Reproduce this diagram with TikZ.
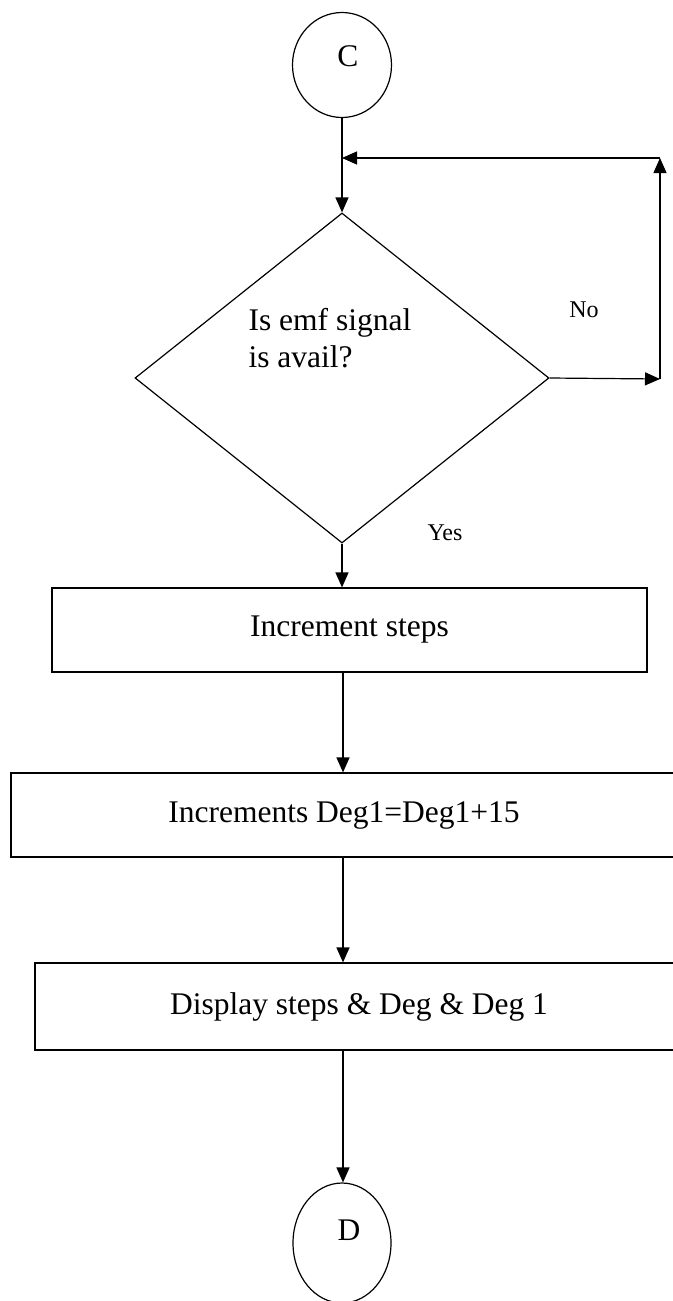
\documentclass[tikz,border=0pt]{standalone}
\usepackage{fontspec}
\setmainfont{Liberation Serif}
\usetikzlibrary{shapes.geometric,arrows.meta}
\tikzset{
	arr/.style={line width=1.2pt, -{Triangle[length=15pt,width=13pt]}},
	term/.style={draw, line width=1.2pt, ellipse, inner sep=0pt},
	decision/.style={draw, line width=1.2pt, diamond, inner sep=0pt, minimum width=414pt, minimum height=330pt},
	procbox/.style={draw, line width=1.2pt, rectangle, inner sep=0pt, font=\fontsize{31.5}{37}\selectfont},
	lbl/.style={inner sep=0pt, font=\fontsize{24}{28}\selectfont}
}
\begin{document}
\begin{tikzpicture}[x=1pt, y=-1pt]
	\useasboundingbox (0,0) rectangle (672,1301);
	% connector C
	\node[term, minimum width=99pt, minimum height=105pt] (C) at (342,65) {};
	\node[procbox, draw=none] (Ctext) at (348,56) {C};
	% decision
	\node[decision] (Q) at (342,378) {};
	\node[procbox, draw=none, align=left, anchor=north west] (Qtext) at (248,308) {Is emf signal\\is avail?};
	\node[lbl] (no) at (584,310) {No};
	\node[lbl] (yes) at (445,533) {Yes};
	% process boxes
	\node[procbox, minimum width=595pt, minimum height=84pt] (B1) at (349.5,630) {Increment steps};
	\node[procbox, minimum width=666pt, minimum height=84pt] (B2) at (344,815) {Increments Deg1=Deg1+15};
	\node[procbox, minimum width=648pt, minimum height=87pt] (B3) at (359,1006.5) {Display steps \& Deg \& Deg 1};
	% connector D
	\node[term, minimum width=98pt, minimum height=120pt] (D) at (342,1243) {};
	\node[procbox, draw=none] (Dtext) at (349,1230) {D};
	% loop back
	\coordinate (R) at (660,379);
	\coordinate (T) at (660,158);
	\coordinate (J) at (342,158);
	\draw[line width=1.2pt] (C) -- (J);
	\draw[arr] (J) -- (Q.north);
	\draw[arr] (Q.east) -- (R);
	\draw[arr] (R) -- (T);
	\draw[arr] (T) -- (J);
	% main flow
	\draw[arr] (Q.south) -- (Q.south |- B1.north);
	\draw[arr] (B1.south -| 343,0) -- (B2.north -| 343,0);
	\draw[arr] (B2.south -| 343,0) -- (B3.north -| 343,0);
	\draw[arr] (B3.south -| 343,0) -- (D.north -| 343,0);
\end{tikzpicture}
\end{document}
